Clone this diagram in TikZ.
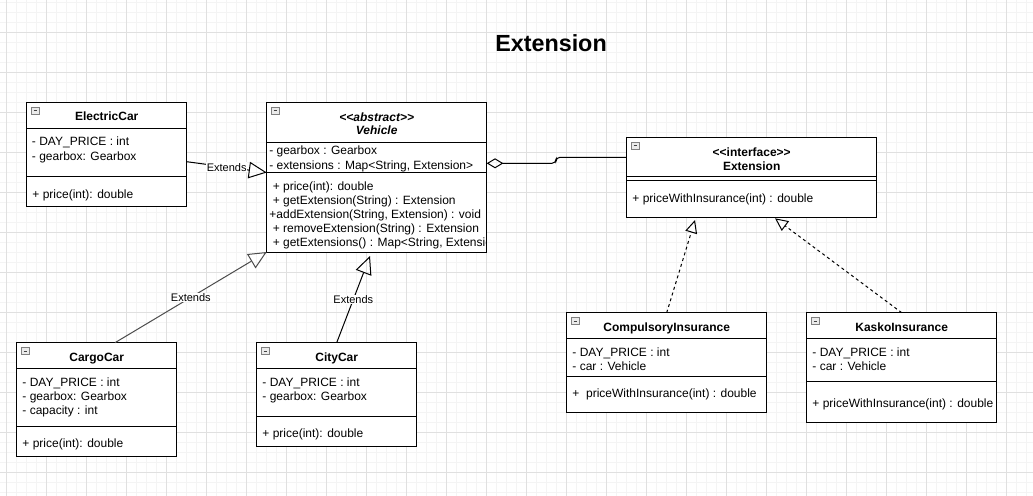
\documentclass[tikz,border=0pt]{standalone}
\usepackage{fontspec}
\setmainfont{Liberation Sans}
\usetikzlibrary{arrows.meta,calc}
\definecolor{gridmajor}{RGB}{224,224,224}
\definecolor{gridminor}{RGB}{244,244,244}
\begin{document}
\begin{tikzpicture}[x=0.75pt,y=-0.75pt,
  umlbox/.style={draw=black, line width=0.75pt, fill=white, inner sep=0pt, outer sep=0pt, anchor=north west},
  member/.style={font=\fontsize{9}{11}\selectfont, inner sep=0pt, anchor=base west},
  cname/.style={font=\bfseries\fontsize{9}{11}\selectfont, inner sep=0pt, anchor=base},
  sepline/.style={line width=0.75pt},
  conn/.style={line width=0.75pt, draw=black},
  lbl/.style={font=\fontsize{8.25}{10}\selectfont, fill=white, inner sep=0.6pt},
  gen/.style={-{Triangle[open,length=13.5pt,width=12.4pt]}},
  realz/.style={dash pattern=on 2.25pt off 2.25pt, -{Triangle[open,length=9.75pt,width=9pt]}},
  minus icon/.pic={
    \draw[black!50, fill=black!8, line width=0.4pt] (0,0) rectangle (7.5,7);
    \draw[black!75, line width=0.6pt] (1.8,3.5) -- (5.7,3.5);
  }
]
% background and grid
\fill[white] (0,0) rectangle (1033,496);
\useasboundingbox (0,0) rectangle (1033,496);
\foreach \i in {0,...,102} {\draw[gridminor, line width=0.75pt] ({6.7+10*\i},0) -- ({6.7+10*\i},496);}
\foreach \i in {0,...,49} {\draw[gridminor, line width=0.75pt] (0,{2+10*\i}) -- (1033,{2+10*\i});}
\foreach \i in {0,...,25} {\draw[gridmajor, line width=0.75pt] ({6.7+40*\i},0) -- ({6.7+40*\i},496);}
\foreach \i in {0,...,11} {\draw[gridmajor, line width=0.75pt] (0,{32+40*\i}) -- (1033,{32+40*\i});}

% title
\node[font=\bfseries\fontsize{17.5}{21}\selectfont, inner sep=0pt] (title) at (551,43) {Extension};

% ElectricCar
\node[umlbox, minimum width=120pt, minimum height=78pt] (ec) at (26.7,102) {};
\pic at ($(ec.north west)+(5,5)$) {minus icon};
\node[cname] (ecn) at (106.7,120.5) {ElectricCar};
\draw[sepline] ($(ec.north west)+(0,26)$) -- ($(ec.north east)+(0,26)$);
\draw[sepline] ($(ec.north west)+(0,74)$) -- ($(ec.north east)+(0,74)$);
\node[member] (eca1) at (31.7,145.5) {- DAY\_PRICE : int};
\node[member] (eca2) at (31.7,160.2) {- gearbox: Gearbox};
\node[member] (ecm1) at (32.2,198) {+ price(int): double};

% Vehicle
\node[umlbox, minimum width=165pt, minimum height=112.5pt] (veh) at (266.7,102) {};
\pic at ($(veh.north west)+(5,5)$) {minus icon};
\node[cname, font=\bfseries\itshape\fontsize{9}{11}\selectfont] (vehs) at (376.7,121.8) {<{}<abstract>{}>};
\node[cname, font=\bfseries\itshape\fontsize{9}{11}\selectfont] (vehn) at (376.7,134.5) {Vehicle};
\draw[sepline] ($(veh.north west)+(0,40.3)$) -- ($(veh.north east)+(0,40.3)$);
\draw[sepline] ($(veh.north west)+(0,70.3)$) -- ($(veh.north east)+(0,70.3)$);
\node[member] (veha1) at (269,154.8) {- gearbox : Gearbox};
\node[member] (veha2) at (269,169.5) {- extensions : Map<String, Extension>};
\node[member] (vehm1) at (272.5,190.2) {+ price(int): double};
\node[member] (vehm2) at (272.5,204.5) {+ getExtension(String) : Extension};
\node[member] (vehm3) at (269.2,218.5) {+addExtension(String, Extension) : void};
\node[member] (vehm4) at (272.5,232.5) {+ removeExtension(String) : Extension};
\begin{scope}
  \clip (veh.north west) rectangle (veh.south east);
  \node[member] (vehm5) at (272.5,246.5) {+ getExtensions() : Map<String, Extension>};
\end{scope}

% Extension interface
\node[umlbox, minimum width=187.5pt, minimum height=60pt] (ext) at (626.7,137.3) {};
\pic at ($(ext.north west)+(5,5)$) {minus icon};
\node[cname] (exts) at (751.7,156.8) {<{}<interface>{}>};
\node[cname] (extn) at (751.7,170.2) {Extension};
\draw[sepline] ($(ext.north west)+(0,39.4)$) -- ($(ext.north east)+(0,39.4)$);
\draw[sepline] ($(ext.north west)+(0,43.4)$) -- ($(ext.north east)+(0,43.4)$);
\node[member] (extm1) at (632.2,202.2) {+ priceWithInsurance(int) : double};

% CargoCar
\node[umlbox, minimum width=120pt, minimum height=85.5pt] (cargo) at (16.7,342.7) {};
\pic at ($(cargo.north west)+(5,5)$) {minus icon};
\node[cname] (cargon) at (96.7,361.2) {CargoCar};
\draw[sepline] ($(cargo.north west)+(0,25.6)$) -- ($(cargo.north east)+(0,25.6)$);
\draw[sepline] ($(cargo.north west)+(0,83.3)$) -- ($(cargo.north east)+(0,83.3)$);
\node[member] (cargoa1) at (22.2,386.2) {- DAY\_PRICE : int};
\node[member] (cargoa2) at (22.2,400.2) {- gearbox: Gearbox};
\node[member] (cargoa3) at (22.2,414.5) {- capacity : int};
\node[member] (cargom1) at (22.2,447.8) {+ price(int): double};

% CityCar
\node[umlbox, minimum width=120pt, minimum height=78pt] (city) at (256.7,342.7) {};
\pic at ($(city.north west)+(5,5)$) {minus icon};
\node[cname] (cityn) at (336.7,361.2) {CityCar};
\draw[sepline] ($(city.north west)+(0,25.6)$) -- ($(city.north east)+(0,25.6)$);
\draw[sepline] ($(city.north west)+(0,74)$) -- ($(city.north east)+(0,74)$);
\node[member] (citya1) at (262.2,386.2) {- DAY\_PRICE : int};
\node[member] (citya2) at (262.2,400.2) {- gearbox: Gearbox};
\node[member] (citym1) at (262.2,437.8) {+ price(int): double};

% CompulsoryInsurance
\node[umlbox, minimum width=150pt, minimum height=75pt] (comp) at (566.7,312.7) {};
\pic at ($(comp.north west)+(5,5)$) {minus icon};
\node[cname] (compn) at (666.7,331.2) {CompulsoryInsurance};
\draw[sepline] ($(comp.north west)+(0,25.6)$) -- ($(comp.north east)+(0,25.6)$);
\draw[sepline] ($(comp.north west)+(0,63.3)$) -- ($(comp.north east)+(0,63.3)$);
\node[member] (compa1) at (572.2,356.2) {- DAY\_PRICE : int};
\node[member] (compa2) at (572.2,370.2) {- car : Vehicle};
\node[member] (compm1) at (572.2,397.8) {+\ \ priceWithInsurance(int) : double};

% KaskoInsurance
\node[umlbox, minimum width=142.5pt, minimum height=82.5pt] (kasko) at (806.7,312.7) {};
\pic at ($(kasko.north west)+(5,5)$) {minus icon};
\node[cname] (kaskon) at (901.7,331.2) {KaskoInsurance};
\draw[sepline] ($(kasko.north west)+(0,25.6)$) -- ($(kasko.north east)+(0,25.6)$);
\draw[sepline] ($(kasko.north west)+(0,69)$) -- ($(kasko.north east)+(0,69)$);
\node[member] (kaskoa1) at (812.2,356.2) {- DAY\_PRICE : int};
\node[member] (kaskoa2) at (812.2,370.2) {- car : Vehicle};
\node[member] (kaskom1) at (812.2,407.8) {+ priceWithInsurance(int) : double};

% connectors
\coordinate (ecS) at ($(ec.north east)+(0,59.7)$);
\coordinate (ecT) at ($(veh.north west)+(0,70.5)$);
\draw[conn, gen] (ecS) -- node[lbl] (l1) {Extends} (ecT);

\coordinate (cargoS) at ($(cargo.north west)+(98.3,0)$);
\draw[conn, draw=black!70, gen] (cargoS) -- node[lbl] (l2) {Extends} (veh.south west);

\coordinate (cityT) at ($(veh.south west)+(103.3,4)$);
\draw[conn, gen] (city.north) -- node[lbl] (l3) {Extends} (cityT);

\coordinate (aggS) at ($(veh.north east)+(0,61.3)$);
\coordinate (aggE) at ($(ext.north west)+(0,20)$);
\draw[conn, {Diamond[open,length=12.5pt,width=7.5pt]}-, rounded corners=3pt]
  (aggS) -- ($(aggS)+(69.3,0)$) -- ($(aggS)+(69.3,-6)$) -- (aggE);

\coordinate (compT) at ($(ext.south west)+(68.3,2.7)$);
\draw[conn, realz] (comp.north) -- (compT);
\coordinate (kaskoT) at ($(ext.south west)+(148.3,1)$);
\draw[conn, realz] (kasko.north) -- (kaskoT);
\end{tikzpicture}
\end{document}
